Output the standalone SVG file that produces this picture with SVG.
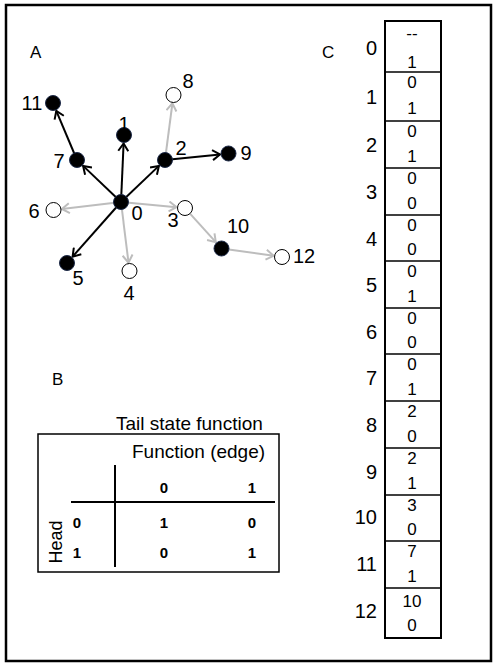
<svg xmlns="http://www.w3.org/2000/svg" width="498" height="667" viewBox="0 0 498 667">
<defs>
<style>
text{font-family:"Liberation Sans",Arial,sans-serif;fill:#000}
.lab{font-size:20px;text-anchor:middle}
.pan{font-size:17px}
.blk{stroke:#000;stroke-width:2;fill:none}
.gry{stroke:#bdbdbd;stroke-width:2;fill:none}
.fill{fill:#000;stroke:#1d2a48;stroke-width:1}
.open{fill:#fff;stroke:#000;stroke-width:1}
.rl{font-size:20px;text-anchor:end}
.cv{font-size:17px;text-anchor:middle}
.tb{font-size:15px;font-weight:bold;text-anchor:middle}
</style>
<marker id="ab" markerUnits="userSpaceOnUse" markerWidth="12" markerHeight="12" viewBox="0 0 12 12" refX="9.5" refY="6" orient="auto">
<path d="M2,1 L9.5,6 L2,11" fill="none" stroke="#000" stroke-width="2"/>
</marker>
<marker id="ag" markerUnits="userSpaceOnUse" markerWidth="12" markerHeight="12" viewBox="0 0 12 12" refX="9.5" refY="6" orient="auto">
<path d="M2,1 L9.5,6 L2,11" fill="none" stroke="#bdbdbd" stroke-width="2"/>
</marker>
</defs>
<rect x="6" y="5" width="485" height="656" fill="#fff" stroke="#000" stroke-width="2.5"/>
<text class="pan" x="30" y="58">A</text>
<text class="pan" x="322" y="58">C</text>
<text class="pan" x="52" y="385">B</text>

<g id="connectors">
<line class="blk" x1="121" y1="202" x2="123.6" y2="143.5" marker-end="url(#ab)"/>
<line class="blk" x1="121" y1="202" x2="83.1" y2="165.9" marker-end="url(#ab)"/>
<line class="blk" x1="121" y1="202" x2="158.9" y2="165.9" marker-end="url(#ab)"/>
<line class="blk" x1="121" y1="202" x2="72.6" y2="256.6" marker-end="url(#ab)"/>
<line class="gry" x1="121" y1="202" x2="128.5" y2="262.6" marker-end="url(#ag)"/>
<line class="gry" x1="121" y1="202" x2="61.9" y2="209" marker-end="url(#ag)"/>
<line class="gry" x1="121" y1="202" x2="176.5" y2="207.2" marker-end="url(#ag)"/>
<line class="blk" x1="77" y1="160" x2="56.3" y2="110.8" marker-end="url(#ab)"/>
<line class="blk" x1="165" y1="160" x2="220" y2="154.4" marker-end="url(#ab)"/>
<line class="gry" x1="165" y1="160" x2="172.4" y2="103.4" marker-end="url(#ag)"/>
<line class="gry" x1="190" y1="213.6" x2="215.8" y2="242.2" marker-end="url(#ag)"/>
<line class="gry" x1="221.5" y1="248.5" x2="273.6" y2="255.8" marker-end="url(#ag)"/>
</g>

<g id="n0"><circle class="fill" cx="121" cy="202" r="7.5"/><text class="lab" x="137" y="220">0</text></g>
<g id="n1"><circle class="fill" cx="124" cy="135" r="7.5"/><text class="lab" x="124" y="131">1</text></g>
<g id="n2"><circle class="fill" cx="165" cy="160" r="7.5"/><text class="lab" x="181" y="155">2</text></g>
<g id="n3"><circle class="open" cx="185" cy="208" r="7.5"/><text class="lab" x="173" y="227">3</text></g>
<g id="n4"><circle class="open" cx="129.5" cy="271" r="7.5"/><text class="lab" x="129" y="300">4</text></g>
<g id="n5"><circle class="fill" cx="67" cy="263" r="7.5"/><text class="lab" x="78" y="285">5</text></g>
<g id="n6"><circle class="open" cx="53.5" cy="210" r="7.5"/><text class="lab" x="34" y="218">6</text></g>
<g id="n7"><circle class="fill" cx="77" cy="160" r="7.5"/><text class="lab" x="59" y="168">7</text></g>
<g id="n8"><circle class="open" cx="173.5" cy="95" r="7.5"/><text class="lab" x="188" y="88">8</text></g>
<g id="n9"><circle class="fill" cx="228.5" cy="153.5" r="7.5"/><text class="lab" x="246" y="160">9</text></g>
<g id="n10"><circle class="fill" cx="221.5" cy="248.5" r="7.5"/><text class="lab" x="238" y="233">10</text></g>
<g id="n11"><circle class="fill" cx="53" cy="103" r="7.5"/><text class="lab" x="32" y="110">11</text></g>
<g id="n12"><circle class="open" cx="282" cy="257" r="7.5"/><text class="lab" x="304" y="263">12</text></g>

<g id="tableB">
<text x="116" y="430" style="font-size:19px">Tail state function</text>
<rect x="38" y="434" width="241" height="138" fill="none" stroke="#000" stroke-width="1.5"/>
<text x="132" y="458" style="font-size:19px">Function (edge)</text>
<line x1="115" y1="465" x2="115" y2="567" stroke="#000" stroke-width="2"/>
<line x1="71" y1="502" x2="275" y2="502" stroke="#000" stroke-width="2"/>
<text class="tb" x="164" y="493">0</text>
<text class="tb" x="252" y="493">1</text>
<text class="tb" x="77" y="528">0</text>
<text class="tb" x="77" y="558">1</text>
<text class="tb" x="164" y="528">1</text>
<text class="tb" x="252" y="528">0</text>
<text class="tb" x="164" y="558">0</text>
<text class="tb" x="252" y="558">1</text>
<text transform="translate(62,542) rotate(-90)" style="font-size:18px;text-anchor:middle">Head</text>
</g>

<g id="tableC">
<rect x="385" y="21" width="56" height="617" fill="#fff" stroke="#000" stroke-width="2"/>
<g stroke="#000" stroke-width="1.5">
<line x1="385" y1="72" x2="441" y2="72"/>
<line x1="385" y1="121" x2="441" y2="121"/>
<line x1="385" y1="168" x2="441" y2="168"/>
<line x1="385" y1="215" x2="441" y2="215"/>
<line x1="385" y1="261" x2="441" y2="261"/>
<line x1="385" y1="308" x2="441" y2="308"/>
<line x1="385" y1="354" x2="441" y2="354"/>
<line x1="385" y1="401" x2="441" y2="401"/>
<line x1="385" y1="448" x2="441" y2="448"/>
<line x1="385" y1="495" x2="441" y2="495"/>
<line x1="385" y1="541" x2="441" y2="541"/>
<line x1="385" y1="588" x2="441" y2="588"/>
</g>
<text class="rl" x="377" y="55">0</text>
<text class="rl" x="377" y="104">1</text>
<text class="rl" x="377" y="152">2</text>
<text class="rl" x="377" y="199">3</text>
<text class="rl" x="377" y="246">4</text>
<text class="rl" x="377" y="292">5</text>
<text class="rl" x="377" y="339">6</text>
<text class="rl" x="377" y="385">7</text>
<text class="rl" x="377" y="432">8</text>
<text class="rl" x="377" y="479">9</text>
<text class="rl" x="377" y="524">10</text>
<text class="rl" x="377" y="571">11</text>
<text class="rl" x="377" y="618">12</text>

<text class="cv" x="412" y="39">--</text><text class="cv" x="412" y="68">1</text>
<text class="cv" x="412" y="88">0</text><text class="cv" x="412" y="114">1</text>
<text class="cv" x="412" y="137">0</text><text class="cv" x="412" y="162">1</text>
<text class="cv" x="412" y="184">0</text><text class="cv" x="412" y="209">0</text>
<text class="cv" x="412" y="231">0</text><text class="cv" x="412" y="255">0</text>
<text class="cv" x="412" y="277">0</text><text class="cv" x="412" y="302">1</text>
<text class="cv" x="412" y="324">0</text><text class="cv" x="412" y="348">0</text>
<text class="cv" x="412" y="370">0</text><text class="cv" x="412" y="395">1</text>
<text class="cv" x="412" y="417">2</text><text class="cv" x="412" y="442">0</text>
<text class="cv" x="412" y="464">2</text><text class="cv" x="412" y="489">1</text>
<text class="cv" x="412" y="511">3</text><text class="cv" x="412" y="535">0</text>
<text class="cv" x="412" y="557">7</text><text class="cv" x="412" y="582">1</text>
<text class="cv" x="412" y="607">10</text><text class="cv" x="412" y="631">0</text>
</g>
</svg>
